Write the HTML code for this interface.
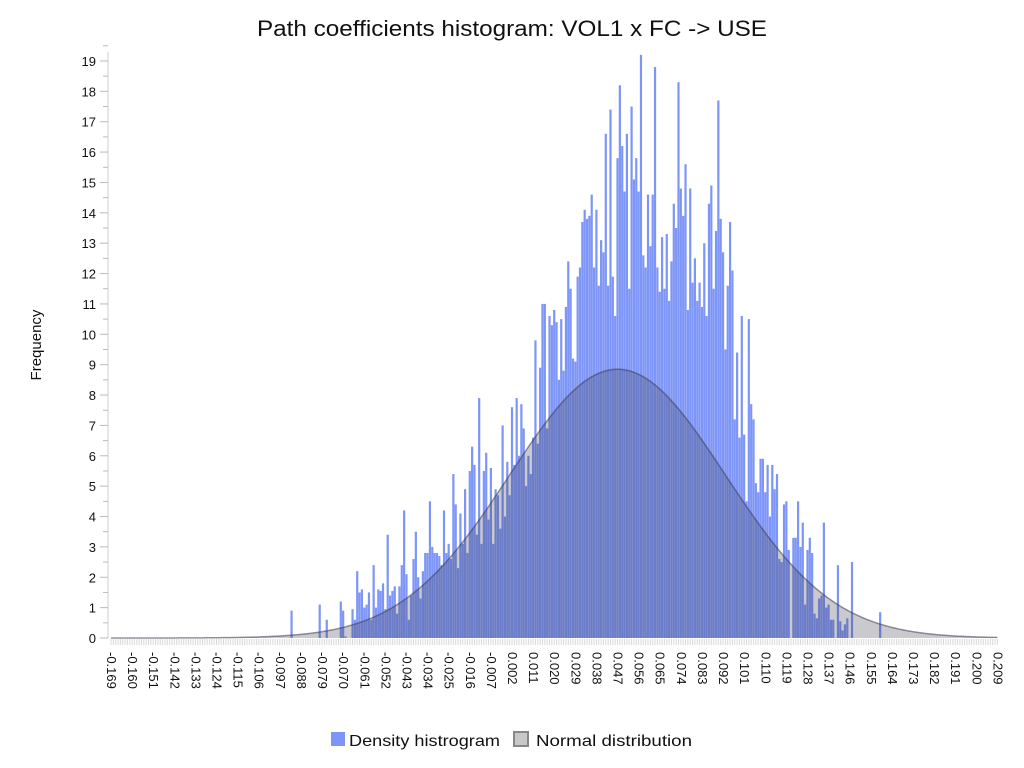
<!DOCTYPE html>
<html><head><meta charset="utf-8"><style>
body{margin:0;background:#fff;font-family:"Liberation Sans",sans-serif}
svg{display:block}
</style></head><body>
<svg id="c" width="1024" height="768">
<text x="257" y="36" textLength="510" lengthAdjust="spacingAndGlyphs" font-size="22" fill="#111">Path coefficients histogram: VOL1 x FC -&gt; USE</text>
<text transform="translate(41,345) rotate(-90)" text-anchor="middle" font-size="15" fill="#111">Frequency</text>
<g id="plot"></g>
<g>
<rect x="331" y="732" width="14" height="14" fill="#7d95f7"/>
<text x="349" y="746" textLength="151" lengthAdjust="spacingAndGlyphs" font-size="16" fill="#111">Density histrogram</text>
<rect x="514" y="732" width="14" height="14" fill="#c8c8c8" stroke="#888" stroke-width="2"/>
<text x="536" y="746" textLength="156" lengthAdjust="spacingAndGlyphs" font-size="16" fill="#111">Normal distribution</text>
</g>
</svg>
<script>
const binStart = [-0.092];
const binWidth = [0.001];
const frequencies = [
0.9,0,0,0,0,0,0,0,0,0,0,0,1.1,0,0,0.6,0,0,0,0,0,1.2,0.9,0.05,0,0,0.95,0.6,
2.2,1.5,1.6,1.0,1.1,1.5,0.6,2.4,1.0,1.6,1.55,1.8,0.95,3.4,1.4,1.55,1.7,0.8,1.7,2.4,4.2,2.1,0.6,1.4,2.6,3.5,2.0,1.3,2.2,2.8,2.8,4.5,3.0,2.8,2.8,2.7,
2.4,4.2,2.8,3.1,2.6,5.4,4.4,2.3,4.1,3.1,4.9,2.8,5.5,6.3,5.7,3.4,7.9,3.1,5.5,6.1,3.9,5.6,3.1,4.9,4.7,3.6,7.0,4.0,5.8,4.7,7.6,5.7,7.9,6.0,7.7,6.9,5.0,6.0,5.4,6.6,9.8,6.4,8.9,11.0,11.0,6.9,10.6,10.3,10.8,10.4,8.5,10.5,8.8,10.9,12.4,11.5,9.2,9.1,11.9,12.2,13.7,14.1,13.8,13.9,
14.6,12.2,14.1,11.6,13.1,12.7,16.6,11.6,17.4,11.9,10.6,15.8,18.2,16.2,14.7,16.6,11.5,17.5,15.1,15.8,14.7,19.2,12.6,12.2,14.6,12.9,14.6,18.8,12.2,11.4,13.2,11.5,13.3,11.1,12.4,14.3,13.5,18.3,14.8,13.9,15.6,10.8,14.8,11.7,12.5,11.1,11.7,10.9,13.0,10.6,14.3,14.9,11.5,13.4,17.7,13.8,12.7,9.5,11.6,13.7,12.1,7.2,9.4,6.6,
10.6,6.7,4.5,10.5,7.7,7.2,5.1,4.8,5.9,5.9,4.8,5.7,4.0,5.7,4.9,5.4,2.6,2.5,4.4,4.5,2.9,0,3.3,3.3,4.5,3.0,3.8,1.1,2.9,3.3,2.8,0.8,0.65,1.3,1.4,3.8,1.0,1.1,0.6,0.6,0,2.4,0.55,0.25,0.45,0.65,0,2.5,
0,0,0,0,0,0,0,0,0,0,0,0.85
];
const normalMean = [0.047];
const normalSd = [0.046];
const normalPeak = [8.85];
const xTickLabels = [];
for (let k=0;k<=42;k++) xTickLabels.push((-0.169+k*0.009).toFixed(3));
const yTickLabels = [0,1,2,3,4,5,6,7,8,9,10,11,12,13,14,15,16,17,18,19];

const NS="http://www.w3.org/2000/svg";
const X0=111, PXU=2.345, Y0=638, PY=30.37;
const xs = v => X0 + (v+0.169)/0.001*PXU;
const ys = f => Y0 - f*PY;
const plot=document.getElementById('plot');
function mk(tag,attrs){const e=document.createElementNS(NS,tag);for(const k in attrs)e.setAttribute(k,attrs[k]);plot.appendChild(e);return e;}

const ya=mk('line',{x1:108,y1:52,x2:108,y2:Y0,stroke:'#ccc'});


for(let t=0;t<=19.5;t+=0.5){
  const l=mk('line',{x1:t%1===0?100:103,x2:108,y1:ys(t),y2:ys(t),stroke:'#bbb'});
  
  
}
yTickLabels.forEach(t=>{
  const tx=mk('text',{x:96,y:ys(t)+5,'text-anchor':'end','font-size':13,fill:'#111'});
  tx.textContent=t;
  
  
});
for(let v=-0.169;v<=0.2095;v+=0.001){
  const l=mk('line',{x1:xs(v),x2:xs(v),y1:Y0+1,y2:Y0+7,stroke:'#d8d8d8','stroke-width':1});
  
  
}
xTickLabels.forEach(s=>{
  const v=parseFloat(s), x=xs(v);
  const tx=mk('text',{transform:`translate(${x-4},652) rotate(90)`,'font-size':13,fill:'#111'});
  tx.textContent=s;
  
  
});
frequencies.forEach((f,i)=>{
  if(f<=0)return;
  const v=binStart[0]+i*binWidth[0];
  const x=xs(v);
  const r=mk('rect',{x:x-1.1,y:ys(f),width:2.2,height:Y0-ys(f),fill:'#7d95f7'});
  
  
});
let d=`M${xs(-0.169)},${Y0}`, dl='';
for(let v=-0.169;v<=0.2095;v+=0.0005){
  const f=normalPeak[0]*Math.exp(-0.5*Math.pow((v-normalMean[0])/normalSd[0],2));
  d+=` L${xs(v).toFixed(2)},${ys(f).toFixed(2)}`;
  dl+=(dl?' L':'M')+xs(v).toFixed(2)+','+ys(f).toFixed(2);
}
d+=` L${xs(0.209)},${Y0} Z`;
const area=mk('path',{d:d,fill:'rgba(60,60,80,0.28)'});


const line=mk('path',{d:dl,fill:'none',stroke:'rgba(60,60,80,0.55)','stroke-width':1.5});


</script>
</body></html>
